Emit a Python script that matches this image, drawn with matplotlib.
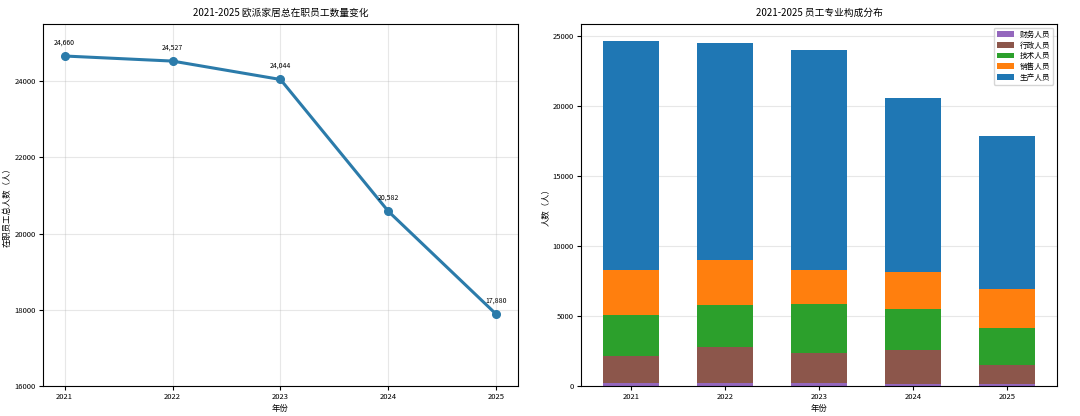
import matplotlib
matplotlib.use("Agg")
import matplotlib.pyplot as plt
import numpy as np

plt.rcParams['font.family'] = ['Noto Sans CJK SC', 'DejaVu Sans']
plt.rcParams['axes.unicode_minus'] = False

years = [2021, 2022, 2023, 2024, 2025]
totals = [24660, 24527, 24044, 20582, 17880]

categories = ['财务人员', '行政人员', '技术人员', '销售人员', '生产人员']
finance = [180, 190, 185, 175, 110]
admin = [1960, 2600, 2195, 2420, 1366]
tech = [2930, 3000, 3450, 2905, 2640]
sales = [3240, 3240, 2480, 2665, 2835]
production = [totals[i] - finance[i] - admin[i] - tech[i] - sales[i] for i in range(5)]
series = [finance, admin, tech, sales, production]
colors = ['#9467bd', '#8c564b', '#2ca02c', '#ff7f0e', '#1f77b4']

fig = plt.figure(figsize=(10.8, 4.16), dpi=100)
ax1 = fig.add_axes([0.0398, 0.0721, 0.4398, 0.8702])
ax2 = fig.add_axes([0.538, 0.0721, 0.4407, 0.8702])

fs_title = 7
fs_tick = 5.5
fs_label = 6

# Left: line chart
line_color = '#2B7BAA'
ax1.plot(years, totals, marker='o', color=line_color, linewidth=2.2, markersize=5.5)
for x, y in zip(years, totals):
    ax1.annotate(f'{y:,}', (x, y), textcoords='offset points', xytext=(0, 7),
                 ha='center', va='bottom', fontsize=5)
ax1.set_ylim(16000, 25500)
ax1.set_xticks(years)
ax1.set_yticks([16000, 18000, 20000, 22000, 24000])
ax1.grid(True, alpha=0.3)
ax1.set_title('2021-2025 欧派家居总在职员工数量变化', fontsize=fs_title, pad=6)
ax1.set_xlabel('年份', fontsize=fs_label, labelpad=2)
ax1.set_ylabel('在职员工总人数（人）', fontsize=fs_label, labelpad=2)
ax1.tick_params(labelsize=fs_tick, length=3, pad=2)

# Right: stacked bars
x = np.arange(len(years))
bottom = np.zeros(len(years))
for name, vals, c in zip(categories, series, colors):
    ax2.bar(x, vals, width=0.6, bottom=bottom, color=c, label=name)
    bottom += np.array(vals)
ax2.set_xticks(x)
ax2.set_xticklabels([str(y) for y in years])
ax2.grid(True, axis='y', alpha=0.3)
ax2.set_axisbelow(True)
ax2.set_title('2021-2025 员工专业构成分布', fontsize=fs_title, pad=6)
ax2.set_xlabel('年份', fontsize=fs_label, labelpad=2)
ax2.set_ylabel('人数（人）', fontsize=fs_label, labelpad=2)
ax2.tick_params(labelsize=fs_tick, length=3, pad=2)
ax2.legend(loc='upper right', fontsize=5.5, handlelength=2.2, handleheight=0.8,
           labelspacing=0.35, borderpad=0.4)

fig.savefig('out.png', dpi=100)
